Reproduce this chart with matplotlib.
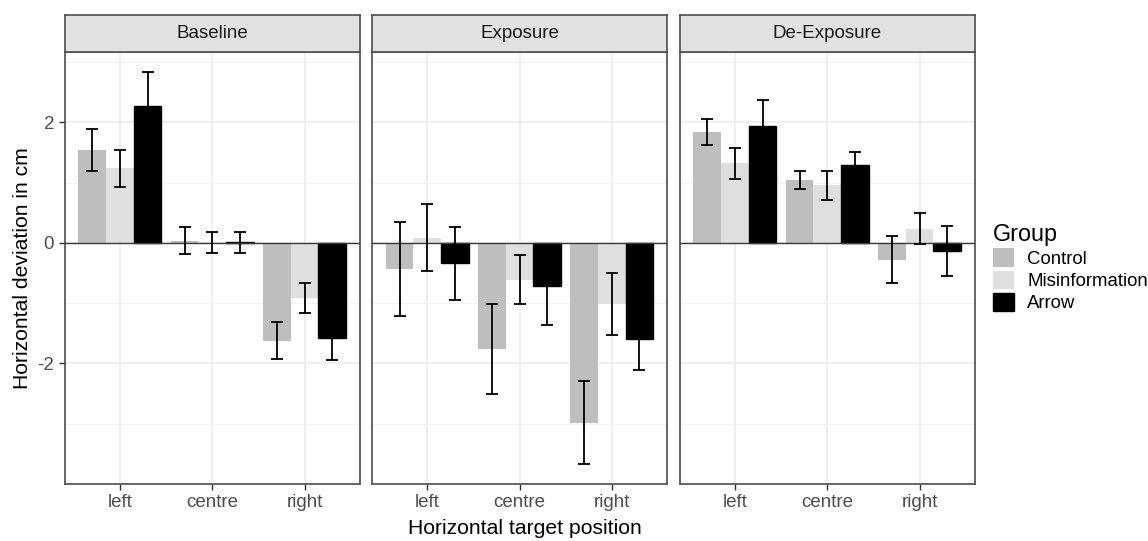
import matplotlib.pyplot as plt
import numpy as np
from matplotlib.patches import Patch

plt.rcParams['font.family'] = ['Liberation Sans', 'DejaVu Sans']
plt.rcParams['axes.unicode_minus'] = False

phases = ['Baseline', 'Exposure', 'De-Exposure']
positions = ['left', 'centre', 'right']
groups = ['Control', 'Misinformation', 'Arrow']
group_colors = ['#BEBEBE', '#DFDFDF', '#000000']

# rows = phase, columns = target position
control_mean = [[1.54, 0.04, -1.62], [-0.43, -1.76, -2.98], [1.84, 1.04, -0.28]]
control_err = [[0.35, 0.22, 0.31], [0.78, 0.75, 0.69], [0.21, 0.15, 0.39]]
misinfo_mean = [[1.24, 0.01, -0.92], [0.09, -0.61, -1.01], [1.32, 0.96, 0.24]]
misinfo_err = [[0.31, 0.18, 0.25], [0.55, 0.41, 0.52], [0.26, 0.24, 0.26]]
arrow_mean = [[2.28, 0.01, -1.57], [-0.34, -0.71, -1.59], [1.95, 1.29, -0.13]]
arrow_err = [[0.55, 0.17, 0.38], [0.60, 0.65, 0.52], [0.43, 0.22, 0.42]]

means = [control_mean, misinfo_mean, arrow_mean]
errs = [control_err, misinfo_err, arrow_err]

W, H = 1148, 541
fig = plt.figure(figsize=(W / 100, H / 100), dpi=100)

panel_x = [(64.5, 360), (372, 667), (679.5, 975)]
panel_top, panel_bottom, strip_top = 52, 484, 15

x = np.arange(1, 4)
bw = 0.3
for p, phase in enumerate(phases):
    x0, x1 = panel_x[p]
    ax = fig.add_axes([x0 / W, (H - panel_bottom) / H, (x1 - x0) / W,
                       (panel_bottom - panel_top) / H])
    # strip on top
    st = fig.add_axes([x0 / W, (H - panel_top) / H, (x1 - x0) / W,
                       (panel_top - strip_top) / H])
    st.set_facecolor('#E1E2E1')
    st.set_xticks([])
    st.set_yticks([])
    for s in st.spines.values():
        s.set_color('#4D4D4D')
        s.set_linewidth(1.2)
    st.text(0.5, 0.5, phase, ha='center', va='center', fontsize=13.5,
            color='#1A1A1A', transform=st.transAxes)

    ax.set_axisbelow(True)
    ax.set_yticks([-3, -1, 1, 3], minor=True)
    ax.grid(which='major', color='#EBEBEB', lw=1.1)
    ax.grid(which='minor', axis='y', color='#F2F2F2', lw=0.7)
    for g in range(3):
        xs = x + (g - 1) * bw
        vals = means[g][p]
        ax.bar(xs, vals, width=bw, color=group_colors[g],
               edgecolor='#000000' if g == 2 else 'none', lw=1, zorder=2)
        ax.errorbar(xs, vals, yerr=errs[g][p], fmt='none', ecolor='#000000',
                    elinewidth=1.3, capsize=4.5, capthick=1.3, zorder=4)
    ax.axhline(0, color='#3A3A3A', lw=1, zorder=3)

    ax.set_xlim(0.4, 3.6)
    ax.set_ylim(-4.0, 3.17)
    ax.set_xticks(x)
    ax.set_xticklabels(positions)
    ax.set_yticks([-2, 0, 2])
    ax.tick_params(axis='both', which='major', labelsize=13.5,
                   labelcolor='#4D4D4D', color='#333333', length=4, width=1)
    ax.tick_params(axis='y', which='minor', length=0)
    if p > 0:
        ax.tick_params(axis='y', length=0, labelleft=False)
    for s in ax.spines.values():
        s.set_color('#4D4D4D')
        s.set_linewidth(1.2)

fig.text(23 / W, (H - 268) / H, 'Horizontal deviation in cm', rotation=90,
         ha='center', va='center', fontsize=15.2)
fig.text(525 / W, (H - 529) / H, 'Horizontal target position',
         ha='center', va='center', fontsize=15.2)

handles = [Patch(facecolor=group_colors[g],
                 edgecolor='#000000' if g == 2 else 'none') for g in range(3)]
leg = fig.legend(handles, groups, title='Group', loc='upper left',
                 bbox_to_anchor=(976 / W, (H - 206) / H), frameon=False,
                 fontsize=13.4, title_fontsize=16.8, handlelength=1.15,
                 handleheight=1.15, labelspacing=0.14, handletextpad=0.7,
                 alignment='left')

fig.savefig('out.png', dpi=100)
